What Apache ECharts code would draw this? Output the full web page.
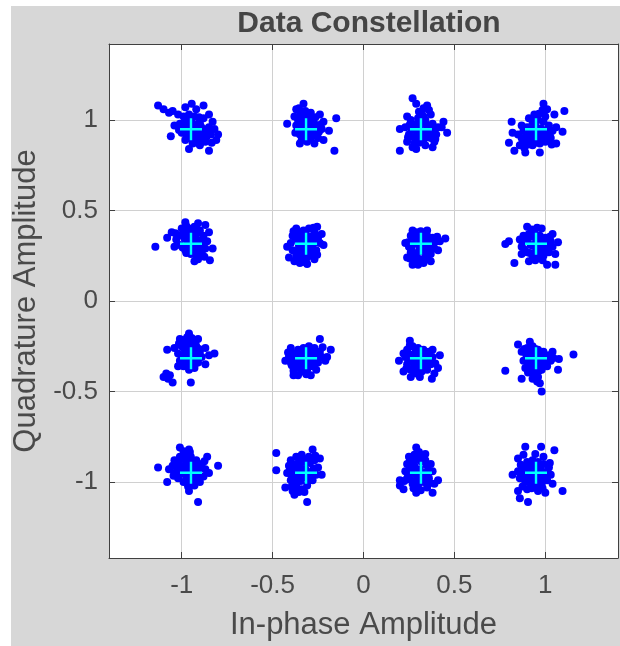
<!DOCTYPE html>
<html>
<head>
<meta charset="utf-8">
<title>Data Constellation</title>
<script src="https://cdn.jsdelivr.net/npm/echarts@6/dist/echarts.min.js"></script>
<style>
  html, body { margin: 0; padding: 0; background: #ffffff; }
  #wrap { position: relative; width: 620px; height: 646px; }
  #panel { position: absolute; left: 11px; top: 6px; width: 609px; height: 640px; background: #d7d7d7; }
  #chart { position: absolute; left: 0; top: 0; width: 620px; height: 646px; }
</style>
</head>
<body>
<div id="wrap"><div id="panel"></div><div id="chart"></div></div>
<script>
// Tick positions shared by both axes
const tickValues = [-1, -0.5, 0, 0.5, 1];

// Ideal 16-QAM reference constellation (unit average power)
const referencePoints = [
  [-0.949, 0.949], [-0.316, 0.949], [0.316, 0.949], [0.949, 0.949],
  [-0.949, 0.316], [-0.316, 0.316], [0.316, 0.316], [0.949, 0.316],
  [-0.949, -0.316], [-0.316, -0.316], [0.316, -0.316], [0.949, -0.316],
  [-0.949, -0.949], [-0.316, -0.949], [0.316, -0.949], [0.949, -0.949]
];

// Received symbols, quadrature level +3
const rxRowTop = [
  [-1.13,1.08],[-1.10,1.06],[-1.07,1.04],[-1.05,1.05],[-1.02,1.03],[-0.945,1.09],[-0.88,1.08],[-0.92,1.06],
  [-0.98,1.07],[-0.85,1.03],[-0.83,0.99],[-0.80,0.92],[-0.81,0.89],[-0.85,0.83],[-0.96,0.84],[-1.06,0.91],
  [-1.04,0.97],[-0.98,1.00],[-0.95,0.98],[-0.92,0.97],[-0.90,0.99],[-0.88,0.95],[-0.86,0.93],[-0.90,0.92],
  [-0.93,0.92],[-0.96,0.93],[-0.99,0.95],[-1.01,0.98],[-0.97,0.96],[-0.94,0.95],[-0.91,0.94],[-0.89,0.90],
  [-0.92,0.89],[-0.95,0.90],[-0.98,0.89],[-0.87,0.88],[-0.84,0.92],[-0.85,0.96],[-0.88,1.01],[-0.93,1.02],
  [-0.96,1.03],[-0.99,1.02],[-1.00,0.93],[-0.94,0.87],[-0.90,0.86],[-0.82,0.95],
  [-0.955,0.965],[-0.935,0.975],[-0.915,0.955],[-0.905,0.935],[-0.925,0.915],[-0.945,0.925],[-0.965,0.945],
  [-0.975,0.915],[-0.955,0.905],[-0.875,0.925],[-0.895,0.965],[-0.865,0.905],[-0.915,0.875],[-0.985,0.975],
  [-0.945,1.005],[-0.905,1.015],[-1.015,0.945],[-0.835,0.875],

  [-0.42,0.98],[-0.15,1.01],[-0.16,0.83],[-0.33,1.09],[-0.37,1.06],[-0.29,1.04],[-0.24,1.03],[-0.19,0.94],
  [-0.22,0.89],[-0.27,0.87],[-0.35,0.87],[-0.375,0.93],[-0.36,1.00],[-0.33,1.02],[-0.30,1.00],[-0.27,0.98],
  [-0.25,0.96],[-0.28,0.94],[-0.31,0.95],[-0.34,0.96],[-0.37,0.97],[-0.35,0.92],[-0.32,0.91],[-0.29,0.90],
  [-0.26,0.92],[-0.23,0.95],[-0.22,0.99],[-0.31,0.88],[-0.34,0.89],[-0.38,1.02],[-0.32,1.05],[-0.28,1.01],
  [-0.25,0.90],[-0.33,0.98],[-0.29,0.97],
  [-0.345,0.975],[-0.315,0.985],[-0.285,0.965],[-0.265,0.945],[-0.295,0.925],[-0.325,0.935],[-0.355,0.945],
  [-0.335,0.905],[-0.305,0.905],[-0.275,0.915],[-0.245,0.935],[-0.315,1.015],[-0.345,1.035],[-0.355,1.065],
  [-0.265,1.015],[-0.235,0.975],

  [0.27,1.12],[0.29,1.09],[0.35,1.08],[0.32,1.04],[0.37,1.03],[0.20,0.83],[0.20,0.95],[0.46,0.93],
  [0.44,0.99],[0.38,0.85],[0.29,0.84],[0.24,0.88],[0.26,1.00],[0.30,1.01],[0.34,1.00],[0.38,0.98],
  [0.41,0.96],[0.40,0.92],[0.37,0.90],[0.33,0.89],[0.29,0.90],[0.25,0.92],[0.23,0.96],[0.27,0.96],
  [0.31,0.97],[0.35,0.95],[0.32,0.93],[0.28,0.87],[0.34,0.86],[0.39,0.88],[0.43,0.96],[0.24,1.02],
  [0.30,0.94],[0.36,0.92],[0.33,1.02],[0.27,0.85],
  [0.285,0.975],[0.315,0.985],[0.345,0.975],[0.375,0.955],[0.355,0.925],[0.325,0.915],[0.295,0.925],
  [0.265,0.945],[0.245,0.905],[0.275,0.905],[0.305,0.875],[0.345,0.905],[0.385,0.935],[0.395,0.895],
  [0.255,0.975],[0.305,1.045],[0.33,1.065],[0.36,1.055],

  [1.105,1.05],[0.99,1.09],[1.01,1.06],[1.05,1.03],[0.815,0.99],[0.80,0.875],[0.82,0.93],[0.83,0.83],
  [0.89,0.82],[0.97,0.82],[1.06,0.87],[1.095,0.935],[0.91,1.01],[0.87,0.97],[0.90,0.96],[0.93,0.98],
  [0.96,1.00],[0.99,0.99],[1.02,0.97],[1.04,0.94],[1.03,0.90],[1.00,0.88],[0.97,0.87],[0.93,0.86],
  [0.90,0.88],[0.87,0.90],[0.85,0.92],[0.88,0.94],[0.92,0.92],[0.95,0.94],[0.98,0.93],[1.01,0.92],
  [0.96,0.90],[0.92,0.89],[0.86,0.86],[1.06,0.96],[1.00,1.02],[0.94,1.03],
  [0.915,0.945],[0.945,0.965],[0.975,0.955],[1.005,0.945],[1.025,0.925],[0.985,0.915],[0.955,0.915],
  [0.925,0.905],[0.895,0.915],[0.875,0.875],[0.905,0.865],[0.945,0.875],[0.985,0.895],[1.015,0.895],
  [0.935,0.995],[0.965,1.035],[0.985,1.055],[0.885,0.845],[1.035,0.865]
];

// Received symbols, quadrature level +1
const rxRowUpper = [
  [-1.145,0.30],[-1.08,0.35],[-1.055,0.38],[-0.98,0.435],[-0.87,0.42],[-0.845,0.225],[-0.91,0.23],[-0.83,0.29],
  [-1.04,0.30],[-1.02,0.36],[-0.99,0.38],[-0.96,0.40],[-0.93,0.41],[-0.90,0.39],[-0.88,0.36],[-0.86,0.33],
  [-0.87,0.29],[-0.89,0.26],[-0.92,0.25],[-0.95,0.26],[-0.98,0.28],[-1.01,0.31],[-0.97,0.33],[-0.94,0.35],
  [-0.91,0.32],[-0.94,0.29],[-1.00,0.40],[-0.91,0.43],[-0.85,0.38],[-0.96,0.37],[-0.89,0.31],[-1.03,0.34],
  [-0.93,0.22],
  [-0.985,0.345],[-0.955,0.355],[-0.925,0.345],[-0.895,0.335],[-0.905,0.305],[-0.935,0.315],[-0.965,0.305],
  [-0.995,0.295],[-0.975,0.265],[-0.945,0.275],[-0.915,0.275],[-0.885,0.285],[-0.945,0.385],[-0.915,0.375],
  [-0.975,0.415],[-1.035,0.375],[-0.875,0.245],

  [-0.42,0.30],[-0.41,0.24],[-0.31,0.205],[-0.37,0.40],[-0.255,0.41],[-0.22,0.31],[-0.23,0.37],[-0.39,0.36],
  [-0.36,0.38],[-0.33,0.39],[-0.30,0.40],[-0.27,0.38],[-0.25,0.35],[-0.24,0.32],[-0.26,0.28],[-0.28,0.25],
  [-0.31,0.24],[-0.34,0.23],[-0.37,0.25],[-0.39,0.28],[-0.40,0.32],[-0.36,0.33],[-0.33,0.35],[-0.30,0.33],
  [-0.34,0.29],[-0.31,0.28],[-0.28,0.31],[-0.35,0.21],[-0.38,0.22],[-0.27,0.23],
  [-0.375,0.345],[-0.345,0.365],[-0.315,0.365],[-0.285,0.355],[-0.265,0.325],[-0.295,0.315],[-0.325,0.315],
  [-0.355,0.305],[-0.375,0.275],[-0.345,0.265],[-0.315,0.255],[-0.285,0.275],[-0.255,0.255],[-0.325,0.215],
  [-0.385,0.385],[-0.275,0.405],

  [0.45,0.345],[0.41,0.28],[0.27,0.20],[0.24,0.24],[0.23,0.32],[0.27,0.39],[0.35,0.39],[0.26,0.36],
  [0.29,0.38],[0.32,0.37],[0.35,0.36],[0.38,0.35],[0.40,0.33],[0.39,0.29],[0.37,0.26],[0.34,0.24],
  [0.31,0.23],[0.28,0.24],[0.26,0.27],[0.25,0.30],[0.28,0.32],[0.31,0.34],[0.34,0.31],[0.31,0.29],
  [0.36,0.30],[0.33,0.21],[0.30,0.20],[0.37,0.22],[0.42,0.33],[0.27,0.34],
  [0.275,0.345],[0.305,0.355],[0.335,0.345],[0.365,0.335],[0.385,0.315],[0.355,0.285],[0.325,0.275],
  [0.295,0.265],[0.265,0.285],[0.245,0.325],[0.295,0.315],[0.325,0.305],[0.355,0.255],[0.285,0.215],
  [0.315,0.385],[0.405,0.355],[0.255,0.235],

  [0.78,0.315],[0.80,0.33],[0.83,0.21],[1.01,0.20],[1.055,0.20],[0.90,0.41],[0.98,0.40],[1.07,0.325],
  [1.055,0.26],[0.87,0.26],[0.88,0.36],[0.91,0.37],[0.94,0.38],[0.97,0.36],[1.00,0.35],[1.03,0.33],
  [1.04,0.30],[1.02,0.27],[0.99,0.25],[0.96,0.24],[0.93,0.25],[0.90,0.27],[0.87,0.30],[0.89,0.33],
  [0.92,0.31],[0.95,0.33],[0.98,0.30],[1.01,0.29],[0.95,0.28],[0.91,0.22],[0.86,0.34],[1.04,0.37],
  [0.905,0.345],[0.935,0.355],[0.965,0.345],[0.995,0.325],[1.015,0.315],[1.005,0.275],[0.975,0.275],
  [0.945,0.265],[0.915,0.265],[0.885,0.285],[0.875,0.325],[0.935,0.305],[0.965,0.305],[0.925,0.395],
  [0.955,0.405],[0.985,0.225],[0.945,0.225],[1.025,0.355]
];

// Received symbols, quadrature level -1
const rxRowLower = [
  [-1.08,-0.27],[-1.10,-0.42],[-1.075,-0.43],[-1.05,-0.45],[-0.95,-0.45],[-0.82,-0.29],[-0.96,-0.18],[-1.01,-0.21],
  [-0.91,-0.21],[-0.87,-0.26],[-1.02,-0.36],[-1.00,-0.25],[-0.97,-0.23],[-0.94,-0.22],[-0.92,-0.25],[-0.90,-0.28],
  [-0.89,-0.31],[-0.91,-0.34],[-0.93,-0.37],[-0.96,-0.38],[-0.99,-0.36],[-1.01,-0.33],[-1.02,-0.29],[-0.98,-0.28],
  [-0.95,-0.30],[-0.95,-0.26],[-0.98,-0.32],[-0.92,-0.31],[-0.97,-0.20],[-1.04,-0.26],[-0.87,-0.35],[-0.85,-0.30],
  [-0.96,-0.34],
  [-0.985,-0.265],[-0.955,-0.245],[-0.925,-0.235],[-0.905,-0.265],[-0.905,-0.295],[-0.935,-0.285],[-0.965,-0.285],
  [-0.995,-0.305],[-0.985,-0.345],[-0.955,-0.355],[-0.925,-0.345],[-0.935,-0.325],[-0.965,-0.325],[-0.945,-0.205],
  [-0.985,-0.215],[-1.015,-0.235],[-1.065,-0.41],[-1.085,-0.40],

  [-0.43,-0.33],[-0.24,-0.21],[-0.18,-0.27],[-0.20,-0.31],[-0.385,-0.41],[-0.29,-0.41],[-0.40,-0.26],[-0.39,-0.29],
  [-0.36,-0.27],[-0.33,-0.26],[-0.30,-0.25],[-0.27,-0.26],[-0.24,-0.28],[-0.23,-0.31],[-0.25,-0.34],[-0.28,-0.36],
  [-0.31,-0.38],[-0.34,-0.39],[-0.37,-0.37],[-0.40,-0.34],[-0.41,-0.31],[-0.37,-0.32],[-0.34,-0.33],[-0.31,-0.31],
  [-0.28,-0.32],[-0.33,-0.36],[-0.26,-0.38],[-0.21,-0.33],[-0.36,-0.41],[-0.29,-0.29],
  [-0.385,-0.315],[-0.355,-0.295],[-0.325,-0.285],[-0.295,-0.275],[-0.265,-0.285],[-0.255,-0.315],[-0.275,-0.345],
  [-0.305,-0.355],[-0.335,-0.355],[-0.365,-0.355],[-0.395,-0.355],[-0.355,-0.325],[-0.325,-0.315],[-0.295,-0.325],
  [-0.385,-0.385],[-0.315,-0.405],[-0.225,-0.255],[-0.415,-0.285],

  [0.255,-0.22],[0.195,-0.33],[0.22,-0.39],[0.376,-0.43],[0.42,-0.30],[0.38,-0.27],[0.41,-0.37],[0.24,-0.27],
  [0.27,-0.25],[0.30,-0.26],[0.33,-0.27],[0.36,-0.28],[0.38,-0.31],[0.37,-0.35],[0.35,-0.38],[0.32,-0.39],
  [0.29,-0.40],[0.26,-0.38],[0.24,-0.35],[0.23,-0.31],[0.27,-0.31],[0.30,-0.33],[0.33,-0.31],[0.30,-0.29],
  [0.34,-0.35],[0.28,-0.36],[0.26,-0.42],[0.31,-0.42],[0.39,-0.40],[0.22,-0.29],
  [0.255,-0.295],[0.285,-0.285],[0.315,-0.285],[0.345,-0.295],[0.365,-0.315],[0.355,-0.335],[0.325,-0.345],
  [0.295,-0.345],[0.265,-0.335],[0.245,-0.315],[0.285,-0.315],[0.315,-0.315],[0.305,-0.375],[0.335,-0.375],
  [0.275,-0.385],[0.255,-0.245],[0.395,-0.345],[0.235,-0.375],

  [0.78,-0.385],[1.155,-0.295],[1.07,-0.38],[1.075,-0.32],[0.98,-0.50],[0.97,-0.455],[0.915,-0.225],[0.85,-0.24],
  [0.87,-0.43],[0.87,-0.28],[0.90,-0.26],[0.93,-0.25],[0.96,-0.27],[0.99,-0.28],[1.02,-0.30],[1.03,-0.33],
  [1.01,-0.36],[0.98,-0.38],[0.95,-0.40],[0.92,-0.39],[0.89,-0.37],[0.88,-0.33],[0.91,-0.31],[0.94,-0.32],
  [0.97,-0.33],[0.95,-0.36],[0.92,-0.35],[0.99,-0.31],[0.96,-0.42],[0.93,-0.43],[1.04,-0.28],
  [0.895,-0.295],[0.925,-0.285],[0.955,-0.295],[0.985,-0.305],[1.005,-0.325],[0.985,-0.345],[0.955,-0.345],
  [0.925,-0.335],[0.895,-0.325],[0.905,-0.355],[0.935,-0.375],[0.965,-0.385],[0.935,-0.405],[0.905,-0.395],
  [0.945,-0.265],[0.885,-0.265],[0.955,-0.445],[1.045,-0.315]
];

// Received symbols, quadrature level -3
const rxRowBottom = [
  [-1.13,-0.92],[-0.80,-0.91],[-0.91,-1.11],[-0.96,-1.05],[-1.08,-1.00],[-1.01,-0.81],[-0.96,-0.82],[-0.86,-0.86],
  [-1.04,-0.88],[-1.01,-0.86],[-0.98,-0.85],[-0.95,-0.86],[-0.92,-0.88],[-0.89,-0.90],[-0.87,-0.93],[-0.88,-0.97],
  [-0.90,-1.00],[-0.93,-1.02],[-0.96,-1.01],[-0.99,-1.00],[-1.02,-0.98],[-1.04,-0.95],[-1.05,-0.91],[-1.00,-0.93],
  [-0.97,-0.95],[-0.94,-0.93],[-0.91,-0.95],[-0.97,-0.90],[-1.02,-0.91],[-0.85,-0.95],[-0.94,-0.98],[-1.07,-0.93],
  [-0.99,-0.83],
  [-1.015,-0.895],[-0.985,-0.875],[-0.955,-0.875],[-0.925,-0.895],[-0.905,-0.925],[-0.915,-0.965],[-0.945,-0.965],
  [-0.975,-0.975],[-1.005,-0.955],[-1.025,-0.925],[-0.985,-0.915],[-0.955,-0.915],[-0.935,-0.945],[-0.965,-1.025],
  [-0.925,-0.985],[-0.985,-0.845],[-0.955,-0.835],[-0.875,-0.885],[-1.045,-0.965],

  [-0.48,-0.84],[-0.48,-0.935],[-0.28,-0.82],[-0.31,-1.11],[-0.38,-1.07],[-0.23,-0.96],[-0.43,-1.03],[-0.40,-0.88],
  [-0.37,-0.86],[-0.34,-0.85],[-0.30,-0.86],[-0.27,-0.88],[-0.25,-0.92],[-0.26,-0.96],[-0.28,-0.99],[-0.31,-1.02],
  [-0.34,-1.04],[-0.37,-1.02],[-0.40,-0.99],[-0.42,-0.95],[-0.41,-0.91],[-0.38,-0.93],[-0.35,-0.91],[-0.32,-0.93],
  [-0.29,-0.95],[-0.34,-0.97],[-0.37,-0.97],[-0.32,-0.89],[-0.39,-1.05],[-0.30,-0.99],[-0.24,-0.87],
  [-0.385,-0.905],[-0.355,-0.885],[-0.325,-0.875],[-0.295,-0.895],[-0.275,-0.925],[-0.285,-0.965],[-0.315,-0.975],
  [-0.345,-0.995],[-0.375,-0.995],[-0.395,-0.965],[-0.405,-0.935],[-0.365,-0.945],[-0.335,-0.935],[-0.305,-0.945],
  [-0.355,-1.055],[-0.325,-1.055],[-0.395,-1.025],[-0.265,-0.855],

  [0.29,-0.81],[0.34,-0.845],[0.20,-0.99],[0.20,-1.02],[0.41,-0.99],[0.38,-1.06],[0.29,-1.06],[0.25,-0.86],
  [0.28,-0.85],[0.31,-0.86],[0.34,-0.88],[0.37,-0.90],[0.38,-0.94],[0.36,-0.98],[0.33,-1.00],[0.30,-1.02],
  [0.27,-1.01],[0.24,-0.98],[0.23,-0.94],[0.24,-0.90],[0.28,-0.91],[0.31,-0.93],[0.34,-0.95],[0.29,-0.96],
  [0.26,-0.95],[0.32,-0.97],[0.35,-1.03],[0.22,-1.04],[0.39,-1.01],[0.27,-0.88],
  [0.255,-0.885],[0.285,-0.875],[0.315,-0.885],[0.345,-0.905],[0.355,-0.935],[0.345,-0.965],[0.315,-0.985],
  [0.285,-0.995],[0.255,-0.985],[0.245,-0.955],[0.255,-0.925],[0.285,-0.935],[0.315,-0.955],[0.305,-0.835],
  [0.275,-1.035],[0.315,-1.045],[0.225,-0.995],[0.365,-1.005],

  [0.89,-0.805],[0.977,-0.805],[1.05,-0.825],[1.095,-1.05],[0.905,-1.11],[0.86,-1.09],[0.85,-1.05],[1.00,-1.06],
  [0.85,-0.87],[0.87,-0.91],[0.90,-0.89],[0.93,-0.88],[0.96,-0.89],[0.99,-0.90],[1.02,-0.92],[1.03,-0.96],
  [1.01,-0.99],[0.98,-1.01],[0.95,-1.02],[0.92,-1.01],[0.89,-1.00],[0.86,-0.98],[0.85,-0.94],[0.88,-0.95],
  [0.91,-0.94],[0.94,-0.95],[0.97,-0.96],[0.93,-0.98],[0.90,-1.04],[0.96,-1.05],[0.99,-0.86],[1.04,-1.01],
  [0.88,-0.85],[0.82,-0.96],
  [0.885,-0.925],[0.915,-0.915],[0.945,-0.915],[0.975,-0.925],[1.005,-0.945],[1.005,-0.975],[0.975,-0.985],
  [0.945,-0.995],[0.915,-0.985],[0.885,-0.975],[0.865,-0.955],[0.905,-0.955],[0.935,-0.965],[0.965,-0.945],
  [0.925,-1.035],[0.875,-1.025],[0.985,-1.035],[0.945,-0.845],[1.025,-0.895],[0.865,-0.905]
];

const received = rxRowTop.concat(rxRowUpper, rxRowLower, rxRowBottom);

const FONT = "'Liberation Sans', Arial, Helvetica, sans-serif";
const TEXT = '#4a4a4a';
const FRAME = '#404040';
const GRIDLINE = '#d0d0d0';

const plusPath = 'path://M-1.2,-11 L1.2,-11 L1.2,-1.2 L11,-1.2 L11,1.2 L1.2,1.2 L1.2,11 L-1.2,11 L-1.2,1.2 L-11,1.2 L-11,-1.2 L-1.2,-1.2 Z';

function frameAxis(extra) {
  return Object.assign({
    type: 'value',
    axisLine: { show: true, onZero: false, lineStyle: { color: FRAME, width: 1 } },
    axisTick: { show: true, inside: true, length: 6, customValues: tickValues, lineStyle: { color: FRAME } },
    axisLabel: { show: false },
    splitLine: { show: false }
  }, extra);
}

const chart = echarts.init(document.getElementById('chart'), null, { renderer: 'canvas' });
chart.setOption({
  animation: false,
  backgroundColor: 'transparent',
  title: {
    text: 'Data Constellation',
    left: 364,
    textAlign: 'center',
    top: 4,
    textStyle: { fontFamily: FONT, fontSize: 30, fontWeight: 'bold', color: '#454545' }
  },
  grid: {
    left: 109, right: 2, top: 44, bottom: 88,
    show: true, backgroundColor: '#ffffff', borderWidth: 0
  },
  xAxis: [
    {
      type: 'value', min: -1.4, max: 1.4, position: 'bottom',
      name: 'In-phase Amplitude', nameLocation: 'middle', nameGap: 52,
      nameTextStyle: { fontFamily: FONT, fontSize: 31, color: TEXT },
      axisLine: { show: true, onZero: false, lineStyle: { color: FRAME, width: 1 } },
      axisTick: { show: true, inside: true, length: 6, customValues: tickValues, lineStyle: { color: FRAME } },
      axisLabel: { show: true, customValues: tickValues, margin: 15, fontFamily: FONT, fontSize: 26, color: TEXT },
      splitLine: { show: true, lineStyle: { color: GRIDLINE, width: 1 } }
    },
    frameAxis({ min: -1.4, max: 1.4, position: 'top' })
  ],
  yAxis: [
    {
      type: 'value', min: -1.42, max: 1.42, position: 'left',
      name: 'Quadrature Amplitude', nameLocation: 'middle', nameGap: 62,
      nameTextStyle: { fontFamily: FONT, fontSize: 31, color: TEXT },
      axisLine: { show: true, onZero: false, lineStyle: { color: FRAME, width: 1 } },
      axisTick: { show: true, inside: true, length: 6, customValues: tickValues, lineStyle: { color: FRAME } },
      axisLabel: { show: true, customValues: tickValues, margin: 11, fontFamily: FONT, fontSize: 26, color: TEXT },
      splitLine: { show: true, lineStyle: { color: GRIDLINE, width: 1 } }
    },
    frameAxis({ min: -1.42, max: 1.42, position: 'right' })
  ],
  series: [
    {
      name: 'Received',
      type: 'scatter',
      xAxisIndex: 0, yAxisIndex: 0,
      data: received,
      symbol: 'circle',
      symbolSize: 8,
      itemStyle: { color: '#0000ff', opacity: 1 },
      emphasis: { disabled: true },
      z: 3
    },
    {
      name: 'Reference',
      type: 'scatter',
      xAxisIndex: 0, yAxisIndex: 0,
      data: referencePoints,
      symbol: plusPath,
      symbolSize: 22,
      itemStyle: { color: '#00ffff', opacity: 1 },
      emphasis: { disabled: true },
      z: 4
    }
  ]
});
</script>
</body>
</html>
